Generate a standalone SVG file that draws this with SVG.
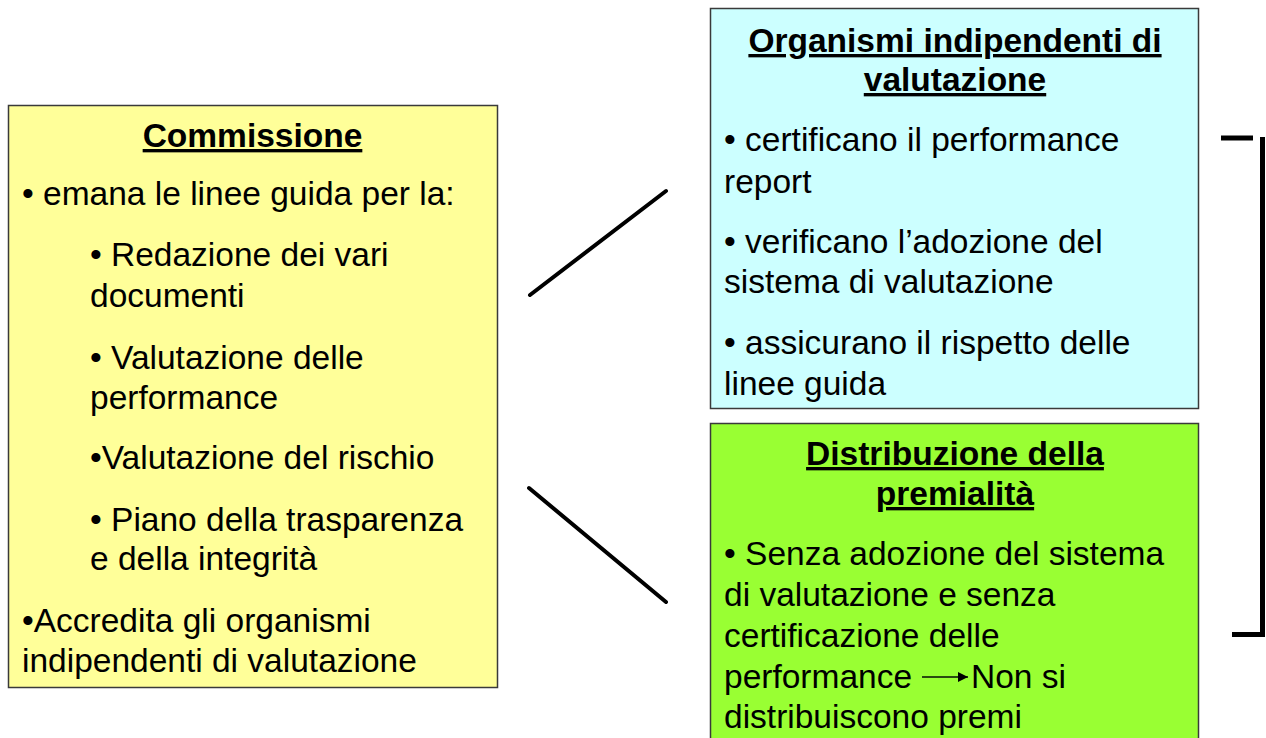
<svg xmlns="http://www.w3.org/2000/svg" width="1266" height="738" viewBox="0 0 1266 738">
<style>
.box{stroke:#3a3a3a;stroke-width:1.5}
.t{font-family:"Liberation Sans",Arial,sans-serif;font-size:33.5px;fill:#000}
.h{font-family:"Liberation Sans",Arial,sans-serif;font-size:33.5px;font-weight:bold;fill:#000;text-anchor:middle;text-decoration:underline}
.c{stroke:#000;stroke-width:4;stroke-linecap:round;fill:none}
</style>
<defs>
<marker id="ah" viewBox="0 0 10 10" refX="10" refY="5" markerWidth="5" markerHeight="5" orient="auto" markerUnits="strokeWidth">
<path d="M0,0 L10,5 L0,10 z" fill="#000"/>
</marker>
</defs>
<rect width="1266" height="738" fill="#fff"/>

<g id="commissione">
<rect class="box" x="8.5" y="105.5" width="489" height="582" fill="#ffff99"/>
<text class="h" x="252.5" y="147">Commissione</text>
<text class="t" x="22" y="205">• emana le linee guida per la:</text>
<text class="t" x="90" y="266">• Redazione dei vari</text>
<text class="t" x="90" y="307">documenti</text>
<text class="t" x="90" y="369">• Valutazione delle</text>
<text class="t" x="90" y="409">performance</text>
<text class="t" x="90" y="469">•Valutazione del rischio</text>
<text class="t" x="90" y="531">• Piano della trasparenza</text>
<text class="t" x="90" y="570">e della integrità</text>
<text class="t" x="22" y="632">•Accredita gli organismi</text>
<text class="t" x="22" y="672">indipendenti di valutazione</text>
</g>

<g id="organismi">
<rect class="box" x="710.5" y="8.5" width="488" height="400" fill="#ccffff"/>
<text class="h" x="955" y="52">Organismi indipendenti di</text>
<text class="h" x="955" y="91">valutazione</text>
<text class="t" x="724" y="151">• certificano il performance</text>
<text class="t" x="724" y="193">report</text>
<text class="t" x="724" y="253">• verificano l’adozione del</text>
<text class="t" x="724" y="293">sistema di valutazione</text>
<text class="t" x="724" y="354">• assicurano il rispetto delle</text>
<text class="t" x="724" y="395">linee guida</text>
</g>

<g id="premialita">
<rect class="box" x="710.5" y="423.5" width="488" height="330" fill="#99ff33"/>
<text class="h" x="955" y="465">Distribuzione della</text>
<text class="h" x="955" y="505">premialità</text>
<text class="t" x="724" y="565">• Senza adozione del sistema</text>
<text class="t" x="724" y="606">di valutazione e senza</text>
<text class="t" x="724" y="647">certificazione delle</text>
<text class="t" x="724" y="688">performance</text>
<line x1="922" y1="677" x2="968" y2="677" stroke="#2a4a10" stroke-width="2" marker-end="url(#ah)"/>
<text class="t" x="971" y="688">Non si</text>
<text class="t" x="724" y="728">distribuiscono premi</text>
</g>

<g id="connectors">
<line class="c" x1="530" y1="295" x2="666" y2="191"/>
<line class="c" x1="529" y1="488" x2="666" y2="602"/>
<path d="M1221,138 H1253" stroke="#000" stroke-width="5" fill="none"/>
<path d="M1232,634.5 H1262.5 V137" stroke="#000" stroke-width="5" fill="none"/>
</g>
</svg>
